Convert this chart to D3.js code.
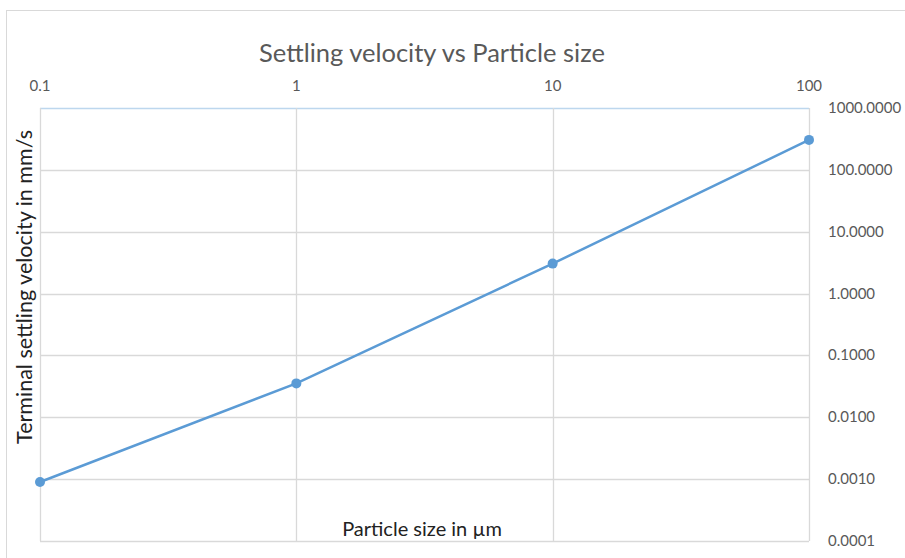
<!DOCTYPE html>
<html>
<head>
<meta charset="utf-8">
<script src="https://cdn.jsdelivr.net/npm/d3@7"></script>
<style>
  body { margin: 0; background: #fff; }
  text { font-family: Lato, "Open Sans", sans-serif; }
</style>
</head>
<body>
<div id="viz"></div>
<script>
const width = 905;
const height = 558;

// particle size (µm) and terminal settling velocity (mm/s)
var sizes = [0.1, 1, 10, 100]
var velocities = [0.0009, 0.0353, 3.05, 305]
var xTicks = [0.1, 1, 10, 100]
var yTicks = [0.0001, 0.001, 0.01, 0.1, 1, 10, 100, 1000]

const margin = { left: 40, right: 96, top: 108, bottom: 17 }

const svg = d3.select("#viz")
    .append("svg")
    .attr("width", width)
    .attr("height", height);

// chart border
svg.append("rect")
    .attr("x", 6.5)
    .attr("y", 10.5)
    .attr("width", width)
    .attr("height", height)
    .attr("fill", "none")
    .attr("stroke", "#d9d9d9")

const x = d3.scaleLog()
    .domain([0.1, 100])
    .range([margin.left, width - margin.right])

const y = d3.scaleLog()
    .domain([0.0001, 1000])
    .range([height - margin.bottom, margin.top])

// gridlines
svg.append("g")
    .selectAll("line")
    .data(yTicks)
    .join("line")
    .attr("x1", x(0.1))
    .attr("x2", x(100))
    .attr("y1", d => Math.round(y(d)) + 0.5)
    .attr("y2", d => Math.round(y(d)) + 0.5)
    .attr("stroke", d => d == 1000 ? "#bdd7ee" : "#d9d9d9")
    .attr("stroke-width", 1.3)

svg.append("g")
    .selectAll("line")
    .data(xTicks)
    .join("line")
    .attr("x1", d => Math.round(x(d)) + 0.5)
    .attr("x2", d => Math.round(x(d)) + 0.5)
    .attr("y1", y(1000))
    .attr("y2", y(0.0001))
    .attr("stroke", "#d9d9d9")
    .attr("stroke-width", 1.3)

// top axis labels
svg.append("g")
    .selectAll("text")
    .data(xTicks)
    .join("text")
    .attr("x", d => x(d))
    .attr("y", 91)
    .attr("text-anchor", "middle")
    .attr("fill", "#595959")
    .style("font-size", "15px")
    .text(d => d3.format("")(d))

// right axis labels
svg.append("g")
    .selectAll("text")
    .data(yTicks)
    .join("text")
    .attr("x", x(100) + 19)
    .attr("y", d => y(d) + 5)
    .attr("fill", "#595959")
    .style("font-size", "15px")
    .text(d => d3.format(".4f")(d))

// line + markers
const line = d3.line()
    .x((d, i) => x(sizes[i]))
    .y(d => y(d))

svg.append("path")
    .datum(velocities)
    .attr("d", line)
    .attr("fill", "none")
    .attr("stroke", "#5b9bd5")
    .attr("stroke-width", 2.5)

svg.append("g")
    .selectAll("circle")
    .data(velocities)
    .join("circle")
    .attr("cx", (d, i) => x(sizes[i]))
    .attr("cy", d => y(d))
    .attr("r", 5)
    .attr("fill", "#5b9bd5")

// title
svg.append("text")
    .attr("x", 432)
    .attr("y", 62)
    .attr("text-anchor", "middle")
    .attr("fill", "#595959")
    .style("font-size", "25.5px")
    .text("Settling velocity vs Particle size")

// axis titles
svg.append("text")
    .attr("x", 422)
    .attr("y", 536)
    .attr("text-anchor", "middle")
    .attr("fill", "#222")
    .style("font-size", "20px")
    .text("Particle size in µm")

svg.append("text")
    .attr("transform", "translate(32,287) rotate(-90)")
    .attr("text-anchor", "middle")
    .attr("fill", "#222")
    .style("font-size", "21.5px")
    .text("Terminal settling velocity in mm/s")
</script>
</body>
</html>
